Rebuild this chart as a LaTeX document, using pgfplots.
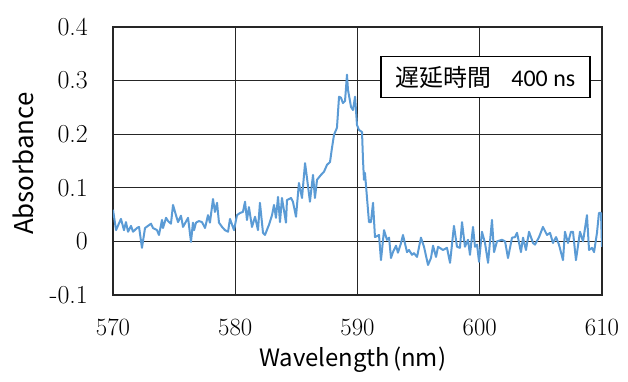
\documentclass[border=0pt]{standalone}
\usepackage{pgfplots}
\pgfplotsset{compat=1.18}
\usepackage{fontspec}
\newfontfamily\jpfont{Noto Sans CJK JP}
\newfontfamily\carlitofont{Carlito}
\definecolor{lineblue}{HTML}{5B9BD5}
\begin{document}
\begin{tikzpicture}
\begin{axis}[name=ax, scale only axis, width=489bp, height=268bp,
 xmin=570, xmax=610, ymin=-0.1, ymax=0.4,
 xtick={570,580,590,600,610}, ytick={-0.1,0,0.1,0.2,0.3,0.4},
 yticklabels={-0.1,0,0.1,0.2,0.3,0.4},
 major tick length=0pt,
 grid=major, grid style={black!85, line width=1.1bp},
 axis line style={black!85, line width=1.1bp},
 tick label style={font=\fontsize{26}{26}\selectfont, inner sep=0pt},
 xticklabel style={anchor=north, yshift=-24bp},
 yticklabel style={anchor=east, xshift=-25bp},
 xlabel={Wavelength\kern3bp(nm)}, ylabel={Absorbance},
 xlabel style={font=\jpfont\fontsize{24}{24}\selectfont, at={(axis description cs:0.49,-0.194)}, anchor=north, inner sep=0pt},
 ylabel style={font=\jpfont\fontsize{26}{26}\selectfont, at={(axis description cs:-0.184,0.49)}, anchor=center, inner sep=0pt},
]
\addplot[lineblue, line width=2bp, line join=round] coordinates {
(570.00,0.059)(570.25,0.021)(570.65,0.042)(570.90,0.021)(571.06,0.036)(571.23,0.018)
(571.47,0.029)(571.64,0.018)(571.96,0.025)(572.13,0.027)(572.37,-0.012)(572.62,0.025)
(573.11,0.033)(573.27,0.025)(573.60,0.021)(573.76,0.012)(574.01,0.040)(574.09,0.025)
(574.34,0.044)(574.50,0.038)(574.74,0.033)(574.91,0.068)(575.15,0.049)(575.32,0.036)
(575.56,0.048)(575.73,0.027)(576.14,0.044)(576.38,-0.001)(576.54,0.035)(576.63,0.021)
(576.79,0.035)(577.03,0.038)(577.28,0.036)(577.53,0.025)(577.77,0.049)(577.93,0.035)
(578.18,0.079)(578.34,0.055)(578.51,0.072)(578.67,0.035)(578.92,0.027)(579.16,0.021)
(579.41,0.018)(579.57,0.042)(579.90,0.021)(580.14,0.049)(580.39,0.053)(580.63,0.055)
(580.80,0.074)(580.96,0.040)(581.12,0.064)(581.37,0.027)(581.62,0.046)(581.86,0.021)
(582.02,0.072)(582.27,0.016)(582.43,0.012)(582.76,0.031)(583.01,0.049)(583.17,0.068)
(583.33,0.044)(583.50,0.083)(583.66,0.036)(583.82,0.081)(584.15,0.035)(584.23,0.077)
(584.56,0.081)(584.72,0.074)(584.97,0.046)(585.21,0.109)(585.46,0.081)(585.71,0.146)
(585.87,0.118)(586.11,0.074)(586.36,0.124)(586.52,0.081)(586.69,0.115)(587.01,0.124)
(587.26,0.130)(587.51,0.143)(587.75,0.148)(587.91,0.174)(588.08,0.199)(588.32,0.212)
(588.49,0.270)(588.65,0.268)(588.81,0.258)(588.98,0.262)(589.14,0.311)(589.22,0.283)
(589.47,0.251)(589.63,0.245)(589.80,0.270)(589.96,0.217)(590.12,0.208)(590.37,0.204)
(590.45,0.152)(590.53,0.115)(590.61,0.128)(590.94,0.036)(591.10,0.036)(591.27,0.072)
(591.43,0.008)(591.76,0.012)(591.92,-0.035)(592.17,0.021)(592.41,0.003)(592.58,0.007)
(592.74,-0.031)(592.90,-0.020)(593.15,-0.008)(593.31,-0.021)(593.56,-0.003)(593.72,0.012)
(594.05,-0.020)(594.21,-0.016)(594.46,-0.025)(594.62,-0.022)(594.87,-0.029)(595.19,0.007)
(595.44,-0.010)(595.77,-0.044)(596.01,-0.031)(596.18,-0.008)(596.42,-0.029)(596.59,-0.010)
(596.99,-0.016)(597.32,-0.012)(597.57,-0.040)(597.89,0.029)(598.14,-0.010)(598.38,-0.012)
(598.55,0.036)(598.79,-0.010)(599.04,0.003)(599.20,-0.025)(599.45,0.027)(599.61,-0.010)
(599.78,-0.006)(599.94,-0.038)(600.18,0.018)(600.43,-0.003)(600.68,-0.040)(601.00,0.040)
(601.17,-0.020)(601.41,0.000)(601.82,0.003)(602.07,0.000)(602.31,-0.031)(602.64,0.007)
(602.88,0.008)(603.05,0.016)(603.37,-0.020)(603.54,0.007)(603.78,-0.016)(604.03,0.018)
(604.36,-0.003)(604.52,-0.006)(604.85,0.008)(605.17,0.027)(605.50,0.012)(605.75,0.016)
(605.99,-0.003)(606.24,0.008)(606.48,-0.006)(606.81,-0.035)(606.97,0.018)(607.22,-0.003)
(607.46,0.018)(607.63,0.018)(607.87,-0.035)(608.20,0.018)(608.45,0.000)(608.77,0.049)
(608.94,-0.016)(609.18,-0.012)(609.35,-0.020)(609.59,0.016)(609.75,0.053)(609.92,0.053)
(610.00,-0.010)
};
\node[draw=black, line width=1.1bp, fill=white, minimum width=209bp, minimum height=41bp, inner sep=0pt]
 at (axis cs:600.47,0.306) {{\jpfont\fontsize{24}{24}\selectfont 遅延時間}\hspace{20bp}{\carlitofont\fontsize{24}{24}\selectfont 400 ns}};
\end{axis}
\path ([shift={(-113bp,-87bp)}]ax.south west) rectangle ([shift={(26bp,27bp)}]ax.north east);
\end{tikzpicture}
\end{document}
